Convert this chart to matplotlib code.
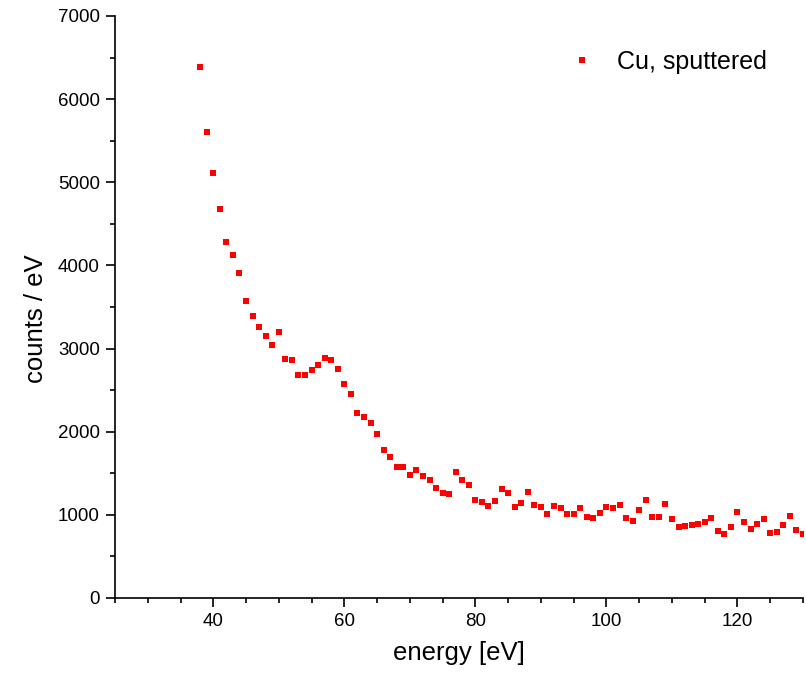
import matplotlib
matplotlib.use("Agg")
import matplotlib.pyplot as plt
from matplotlib.ticker import MultipleLocator

energy = list(range(38, 131))
counts = [
    6387, 5601, 5112, 4679, 4286, 4125, 3905, 3576, 3388, 3259,   # 38-47
    3155, 3039, 3199, 2875, 2859, 2686, 2678, 2746, 2802, 2883,   # 48-57
    2866, 2754, 2574, 2454, 2221, 2177, 2105, 1973, 1780, 1692,   # 58-67
    1572, 1572, 1483, 1534, 1471, 1421, 1327, 1259, 1247, 1516,   # 68-77
    1419, 1355, 1179, 1151, 1110, 1167, 1311, 1263, 1095, 1139,   # 78-87
    1271, 1115, 1091, 1014, 1103, 1083, 1010, 1014, 1083, 970,    # 88-97
    966, 1020, 1096, 1083, 1113, 958, 922, 1063, 1183, 970,       # 98-107
    978, 1127, 954, 858, 862, 878, 886, 910, 962, 806,            # 108-117
    770, 850, 1034, 914, 826, 894, 954, 778, 790, 882,            # 118-127
    990, 822, 774,                                                # 128-130
]
series_label = "Cu, sputtered"
x_label = "energy [eV]"
y_label = "counts / eV"

plt.rcParams['font.family'] = ['Liberation Sans', 'DejaVu Sans']

fig = plt.figure(figsize=(8.06, 6.78), dpi=100)
ax = fig.add_axes([115/806, 1-598/678, (803-115)/806, (598-16)/678])

ax.plot(energy, counts, linestyle='none', marker='s', markersize=4.9,
        color='#ff0000', markeredgewidth=0, label=series_label)

ax.set_xlim(25, 130)
ax.set_ylim(0, 7000)
ax.xaxis.set_major_locator(MultipleLocator(20))
ax.xaxis.set_minor_locator(MultipleLocator(5))
ax.yaxis.set_major_locator(MultipleLocator(1000))
ax.yaxis.set_minor_locator(MultipleLocator(500))

for s in ['top', 'right']:
    ax.spines[s].set_visible(False)
for s in ['left', 'bottom']:
    ax.spines[s].set_linewidth(1.2)

ax.tick_params(which='major', direction='out', length=6.5, width=1.2, labelsize=13.5, pad=4.5)
ax.tick_params(which='minor', direction='out', length=3.5, width=1.2)

ax.set_xlabel(x_label, fontsize=18.5, labelpad=8)
ax.set_ylabel(y_label, fontsize=18.5)
ax.yaxis.set_label_coords(-0.097, 0.48)

ax.legend(loc='center left', bbox_to_anchor=(0.660, 0.9215), frameon=False,
          fontsize=18, handlelength=1.0, handletextpad=0.9,
          borderpad=0, borderaxespad=0, markerscale=1.0)

fig.savefig("out.png", dpi=100)
